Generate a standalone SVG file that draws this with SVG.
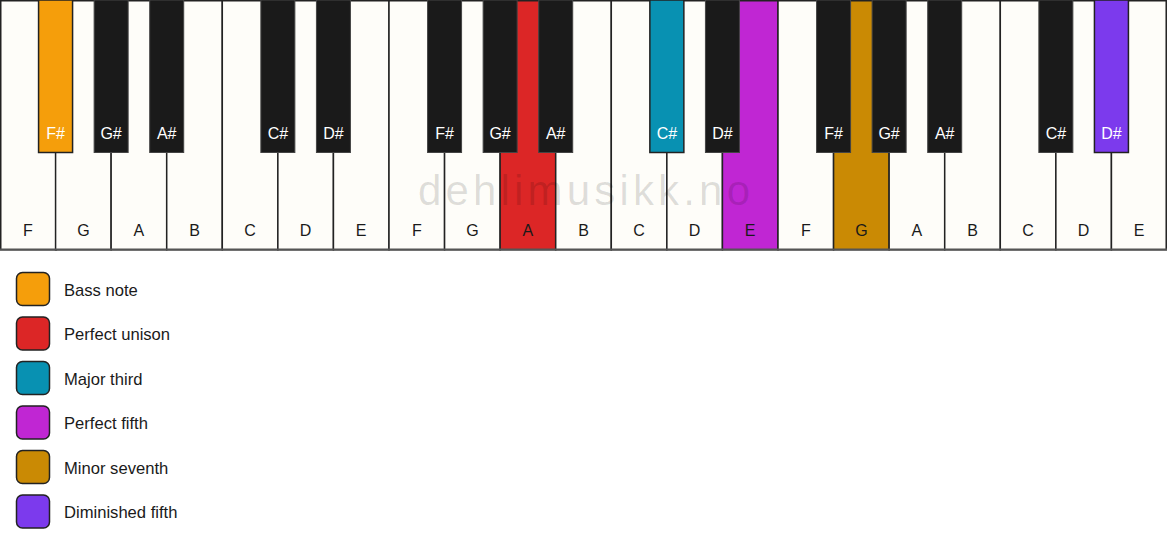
<svg xmlns="http://www.w3.org/2000/svg" width="1167" height="550" viewBox="0 0 1167 550">
<style>
.w{fill:#fefdf9;stroke:#222;stroke-width:1.5}
.b{fill:#1a1a1a;stroke:#444;stroke-width:1}
.wl{font-family:"Liberation Sans",Arial,sans-serif;font-size:16px;fill:#1a1a1a;text-anchor:middle}
.bl{font-family:"Liberation Sans",Arial,sans-serif;font-size:16px;fill:#ffffff;text-anchor:middle}
.lg{font-family:"Liberation Sans",Arial,sans-serif;font-size:16.6px;fill:#1a1a1a}
.sw{stroke:#222;stroke-width:1.5}
.wm{font-family:"Liberation Sans",Arial,sans-serif;font-size:42px;fill:#000000;fill-opacity:0.13}
</style>
<rect x="0" y="0" width="1167" height="550" fill="#ffffff"/>
<g id="white-keys">
<g id="w0"><rect class="w" x="0.75" y="0.75" width="55.57" height="249"/><text class="wl" x="27.8" y="236">F</text></g>
<g id="w1"><rect class="w" x="55.57" y="0.75" width="55.57" height="249"/><text class="wl" x="83.4" y="236">G</text></g>
<g id="w2"><rect class="w" x="111.14" y="0.75" width="55.57" height="249"/><text class="wl" x="138.9" y="236">A</text></g>
<g id="w3"><rect class="w" x="166.71" y="0.75" width="55.57" height="249"/><text class="wl" x="194.5" y="236">B</text></g>
<g id="w4"><rect class="w" x="222.29" y="0.75" width="55.57" height="249"/><text class="wl" x="250.1" y="236">C</text></g>
<g id="w5"><rect class="w" x="277.86" y="0.75" width="55.57" height="249"/><text class="wl" x="305.6" y="236">D</text></g>
<g id="w6"><rect class="w" x="333.43" y="0.75" width="55.57" height="249"/><text class="wl" x="361.2" y="236">E</text></g>
<g id="w7"><rect class="w" x="389" y="0.75" width="55.57" height="249"/><text class="wl" x="416.8" y="236">F</text></g>
<g id="w8"><rect class="w" x="444.57" y="0.75" width="55.57" height="249"/><text class="wl" x="472.4" y="236">G</text></g>
<g id="w9"><rect class="w" x="500.14" y="0.75" width="55.57" height="249" style="fill:#dc2626"/><text class="wl" x="527.9" y="236">A</text></g>
<g id="w10"><rect class="w" x="555.71" y="0.75" width="55.57" height="249"/><text class="wl" x="583.5" y="236">B</text></g>
<g id="w11"><rect class="w" x="611.29" y="0.75" width="55.57" height="249"/><text class="wl" x="639.1" y="236">C</text></g>
<g id="w12"><rect class="w" x="666.86" y="0.75" width="55.57" height="249"/><text class="wl" x="694.6" y="236">D</text></g>
<g id="w13"><rect class="w" x="722.43" y="0.75" width="55.57" height="249" style="fill:#c026d3"/><text class="wl" x="750.2" y="236">E</text></g>
<g id="w14"><rect class="w" x="778" y="0.75" width="55.57" height="249"/><text class="wl" x="805.8" y="236">F</text></g>
<g id="w15"><rect class="w" x="833.57" y="0.75" width="55.57" height="249" style="fill:#ca8a04"/><text class="wl" x="861.4" y="236">G</text></g>
<g id="w16"><rect class="w" x="889.14" y="0.75" width="55.57" height="249"/><text class="wl" x="916.9" y="236">A</text></g>
<g id="w17"><rect class="w" x="944.71" y="0.75" width="55.57" height="249"/><text class="wl" x="972.5" y="236">B</text></g>
<g id="w18"><rect class="w" x="1000.29" y="0.75" width="55.57" height="249"/><text class="wl" x="1028.1" y="236">C</text></g>
<g id="w19"><rect class="w" x="1055.86" y="0.75" width="55.57" height="249"/><text class="wl" x="1083.6" y="236">D</text></g>
<g id="w20"><rect class="w" x="1111.43" y="0.75" width="54.8" height="249"/><text class="wl" x="1139.2" y="236">E</text></g>
<line x1="0" y1="249.5" x2="1167" y2="249.5" stroke="#555" stroke-width="2"/>
</g>
<text class="wm" x="418" y="205" textLength="332" lengthAdjust="spacing">dehlimusikk.no</text>
<g id="black-keys">
<g id="b0"><rect class="b" x="38.57" y="0" width="34" height="152.5" style="fill:#f59e0b;stroke:#222;stroke-width:1.5"/><text class="bl" x="55.6" y="139">F#</text></g>
<g id="b1"><rect class="b" x="94.14" y="0" width="34" height="152.5"/><text class="bl" x="111.1" y="139">G#</text></g>
<g id="b2"><rect class="b" x="149.71" y="0" width="34" height="152.5"/><text class="bl" x="166.7" y="139">A#</text></g>
<g id="b3"><rect class="b" x="260.86" y="0" width="34" height="152.5"/><text class="bl" x="277.9" y="139">C#</text></g>
<g id="b4"><rect class="b" x="316.43" y="0" width="34" height="152.5"/><text class="bl" x="333.4" y="139">D#</text></g>
<g id="b5"><rect class="b" x="427.57" y="0" width="34" height="152.5"/><text class="bl" x="444.6" y="139">F#</text></g>
<g id="b6"><rect class="b" x="483.14" y="0" width="34" height="152.5"/><text class="bl" x="500.1" y="139">G#</text></g>
<g id="b7"><rect class="b" x="538.71" y="0" width="34" height="152.5"/><text class="bl" x="555.7" y="139">A#</text></g>
<g id="b8"><rect class="b" x="649.86" y="0" width="34" height="152.5" style="fill:#0891b2;stroke:#222;stroke-width:1.5"/><text class="bl" x="666.9" y="139">C#</text></g>
<g id="b9"><rect class="b" x="705.43" y="0" width="34" height="152.5"/><text class="bl" x="722.4" y="139">D#</text></g>
<g id="b10"><rect class="b" x="816.57" y="0" width="34" height="152.5"/><text class="bl" x="833.6" y="139">F#</text></g>
<g id="b11"><rect class="b" x="872.14" y="0" width="34" height="152.5"/><text class="bl" x="889.1" y="139">G#</text></g>
<g id="b12"><rect class="b" x="927.71" y="0" width="34" height="152.5"/><text class="bl" x="944.7" y="139">A#</text></g>
<g id="b13"><rect class="b" x="1038.86" y="0" width="34" height="152.5"/><text class="bl" x="1055.9" y="139">C#</text></g>
<g id="b14"><rect class="b" x="1094.43" y="0" width="34" height="152.5" style="fill:#7c3aed;stroke:#222;stroke-width:1.5"/><text class="bl" x="1111.4" y="139">D#</text></g>
</g>
<g id="legend">
<g id="lg0"><rect class="sw" x="16.5" y="272.5" width="33" height="33" rx="6" fill="#f59e0b"/><text class="lg" x="64" y="295.5">Bass note</text></g>
<g id="lg1"><rect class="sw" x="16.5" y="317" width="33" height="33" rx="6" fill="#dc2626"/><text class="lg" x="64" y="340">Perfect unison</text></g>
<g id="lg2"><rect class="sw" x="16.5" y="361.5" width="33" height="33" rx="6" fill="#0891b2"/><text class="lg" x="64" y="384.5">Major third</text></g>
<g id="lg3"><rect class="sw" x="16.5" y="406" width="33" height="33" rx="6" fill="#c026d3"/><text class="lg" x="64" y="429">Perfect fifth</text></g>
<g id="lg4"><rect class="sw" x="16.5" y="450.5" width="33" height="33" rx="6" fill="#ca8a04"/><text class="lg" x="64" y="473.5">Minor seventh</text></g>
<g id="lg5"><rect class="sw" x="16.5" y="495" width="33" height="33" rx="6" fill="#7c3aed"/><text class="lg" x="64" y="518">Diminished fifth</text></g>
</g>
<g id="connectors"></g>
</svg>
